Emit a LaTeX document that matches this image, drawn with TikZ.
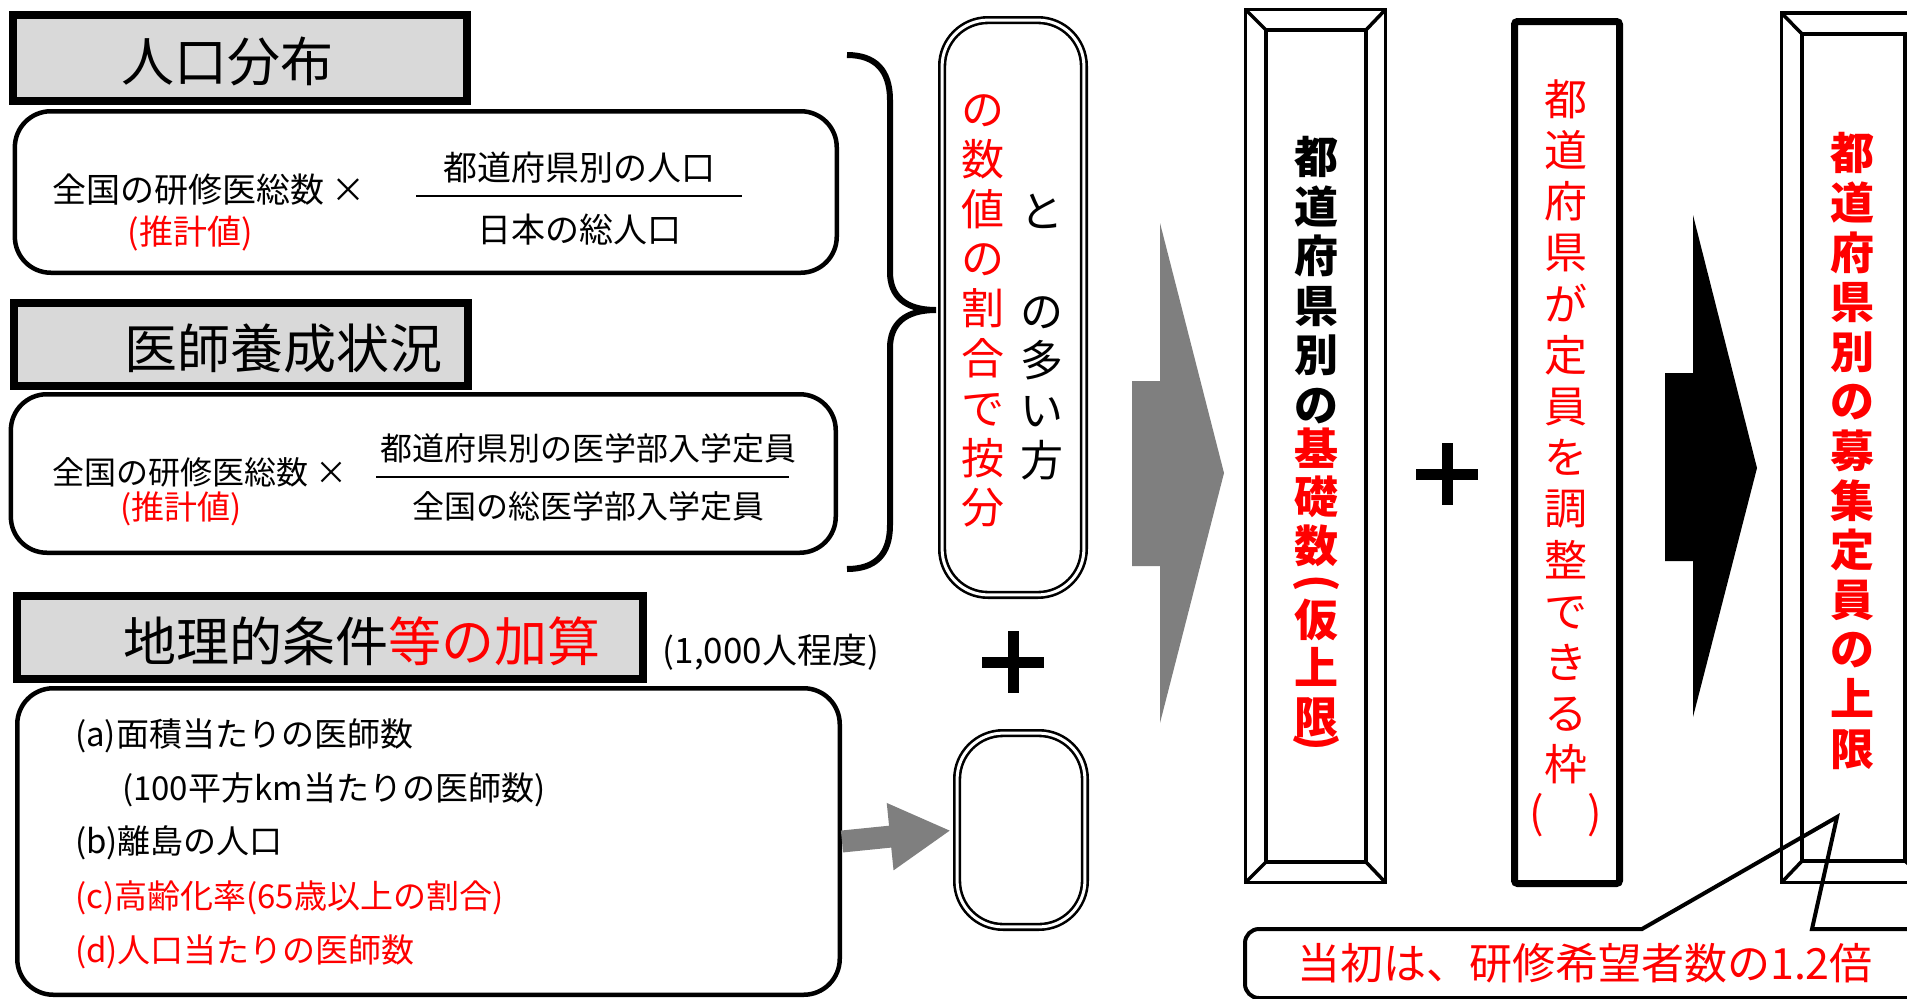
\documentclass[tikz,border=0pt]{standalone}
\usepackage{fontspec}
\setmainfont{Noto Sans CJK JP}
\usetikzlibrary{arrows.meta}
\definecolor{titlegray}{HTML}{D9D9D9}
\definecolor{arrowgray}{HTML}{7F7F7F}
\setlength{\lineskiplimit}{-100pt}

\begin{document}
\begin{tikzpicture}[x=1pt, y=-1pt,
    titlebox/.style={draw=black, line width=8pt, fill=titlegray, inner sep=0pt},
    panel/.style={draw=black, line width=4.5pt, rounded corners=36pt, inner sep=0pt},
    dblbox/.style={draw=black, double, line width=2.6pt, double distance=3pt,
        rounded corners=46pt, inner sep=0pt},
    titletext/.style={anchor=west, inner sep=0pt, font=\fontsize{53}{60}\selectfont},
    bodytext/.style={inner sep=0pt, font=\fontsize{34}{40}\selectfont},
    itemtext/.style={anchor=west, inner sep=0pt, font=\fontsize{33}{40}\selectfont},
    coltext/.style={inner sep=0pt, align=center, font=\fontsize{43}{49.8}\selectfont},
    colbold/.style={coltext, font=\fontsize{44}{49.6}\selectfont\bfseries},
    fracbar/.style={line width=2.5pt},
    bevel/.style={line width=3.5pt},
    plusbar/.style={line width=11pt},
    blockarrow/.style={draw=none},
    callout/.style={line width=4pt}
]
    \useasboundingbox (0,0) rectangle (1907,999);

    % left panels
    \node[panel, minimum width=821.9pt, minimum height=161.5pt] (popbox) at (425.8,192) {};
    \node[panel, minimum width=824.9pt, minimum height=158.5pt] (docbox) at (423.3,473.5) {};
    \node[panel, minimum width=822.5pt, minimum height=306.5pt] (geobox) at (428.5,841.5) {};

    % titles
    \node[titlebox, minimum width=454.4pt, minimum height=86.3pt] (poptitle) at (239.8,57.9) {};
    \node[titletext] (poplabel) at (121,61) {人口分布};
    \node[titlebox, minimum width=454pt, minimum height=83pt] (doctitle) at (241,344.5) {};
    \node[titletext] (doclabel) at (124,348) {医師養成状況};
    \node[titlebox, minimum width=626.4pt, minimum height=83pt] (geotitle) at (329.8,637.5) {};
    \node[titletext] (geolabel) at (123,641) {地理的条件\textcolor{red}{等の加算}};
    \node[bodytext, font=\fontsize{35}{40}\selectfont] (geonote) at (771,652) {(1,000人程度)};

    % population formula
    \node[bodytext, anchor=west] (popfac) at (52,190) {全国の研修医総数 ×};
    \node[bodytext, text=red] (popest) at (190,234) {(推計値)};
    \node[bodytext] (popnum) at (579,168) {都道府県別の人口};
    \node[bodytext] (popden) at (579,230) {日本の総人口};
    \draw[fracbar] (416,196) -- (742,196);

    % training formula
    \node[bodytext, anchor=west, font=\fontsize{32}{40}\selectfont] (docfac) at (52,472) {全国の研修医総数 ×};
    \node[bodytext, text=red, font=\fontsize{33}{40}\selectfont] (docest) at (181,509) {(推計値)};
    \node[bodytext, font=\fontsize{32}{40}\selectfont] (docnum) at (588,448) {都道府県別の医学部入学定員};
    \node[bodytext, font=\fontsize{32}{40}\selectfont] (docden) at (588,506) {全国の総医学部入学定員};
    \draw[fracbar] (376,477) -- (789,477);

    % geographic items
    \node[itemtext] (itema) at (75,736) {(a)面積当たりの医師数};
    \node[itemtext] (itema2) at (122,790) {(100平方km当たりの医師数)};
    \node[itemtext] (itemb) at (75,843) {(b)離島の人口};
    \node[itemtext, text=red] (itemc) at (75,898) {(c)高齢化率(65歳以上の割合)};
    \node[itemtext, text=red] (itemd) at (75,952) {(d)人口当たりの医師数};

    % brace
    \draw[line width=6pt] (847,55) .. controls (875,55) and (890,70) .. (890,100)
        -- (890,272) .. controls (890,296) and (905,310) .. (936,310)
        .. controls (905,310) and (890,324) .. (890,348)
        -- (890,525) .. controls (890,555) and (875,569) .. (847,569);

    % middle column
    \node[dblbox, minimum width=141.8pt, minimum height=574.8pt] (share) at (1013,307.5) {};
    \node[coltext, text=red] (sharetext) at (983,311) {の\\数\\値\\の\\割\\合\\で\\按\\分};
    \node[coltext] (moretext) at (1042,311)
        {\phantom{と}\\\phantom{と}\\と\\\phantom{と}\\の\\多\\い\\方\\\phantom{と}};
    \draw[plusbar] (982,662) -- (1044,662);
    \draw[plusbar] (1013,631) -- (1013,693);
    \node[dblbox, minimum width=127.8pt, minimum height=193.8pt] (extra) at (1021,830) {};
    \draw[arrowgray, line width=22pt, -{Triangle[length=61pt, width=63pt]},
        shorten >=5pt] (geobox.east) -- (extra.west);

    % gray block arrow
    \fill[arrowgray, blockarrow] (1132,381) -- (1160,381) -- (1160,223) -- (1224,473)
        -- (1160,723) -- (1160,566) -- (1132,566) -- cycle;

    % base frame
    \draw[bevel] (1245.5,9.5) rectangle (1385.5,882.5);
    \draw[bevel] (1266,30) rectangle (1366,862);
    \draw[bevel] (1245.5,9.5) -- (1266,30);
    \draw[bevel] (1385.5,9.5) -- (1366,30);
    \draw[bevel] (1245.5,882.5) -- (1266,862);
    \draw[bevel] (1385.5,882.5) -- (1366,862);
    \node[colbold] (basetext) at (1316,280) {都\\道\\府\\県\\別\\の};
    \node[colbold, text=red, font=\fontsize{44}{48.5}\selectfont\bfseries]
        (basered) at (1316,592)
        {基\\礎\\数\\[-13pt]\rotatebox[origin=c]{-90}{(}\\[-10pt]仮\\上\\限\\[-25pt]\rotatebox[origin=c]{-90}{)}};

    % plus
    \draw[plusbar] (1416,474) -- (1478,474);
    \draw[plusbar] (1447,443) -- (1447,505);

    % adjustable frame
    \draw[line width=7pt, rounded corners=3pt] (1514.5,21.5) rectangle (1619.5,883.5);
    \node[coltext, text=red, font=\fontsize{43}{51.2}\selectfont]
        (adjusttext) at (1566,458)
        {都\\道\\府\\県\\が\\定\\員\\を\\調\\整\\で\\き\\る\\枠\\[-4pt](　)};

    % black block arrow
    \fill[black, blockarrow] (1665,373) -- (1693,373) -- (1693,215) -- (1757,468)
        -- (1693,717) -- (1693,561) -- (1665,561) -- cycle;

    % cap frame
    \draw[bevel] (1781.5,13) rectangle (1930,882.5);
    \draw[bevel] (1802,34) rectangle (1905,861);
    \draw[bevel] (1781.5,13) -- (1802,34);
    \draw[bevel] (1781.5,882.5) -- (1802,861);
    \draw[bevel] (1930,882.5) -- (1905,861);
    \node[colbold, text=red] (captext) at (1852,451)
        {都\\道\\府\\県\\別\\の\\募\\集\\定\\員\\の\\上\\限};

    % note
    \draw[callout] (1812,929) -- (1837,817) -- (1642,929) [rounded corners=14pt]
        -- (1245,929) -- (1245,998) [sharp corners] -- (1990,998) -- (1990,929) -- cycle;
    \node[bodytext, text=red, font=\fontsize{43}{50}\selectfont] (note) at (1585,963)
        {当初は、研修希望者数の1.2倍};
\end{tikzpicture}
\end{document}
